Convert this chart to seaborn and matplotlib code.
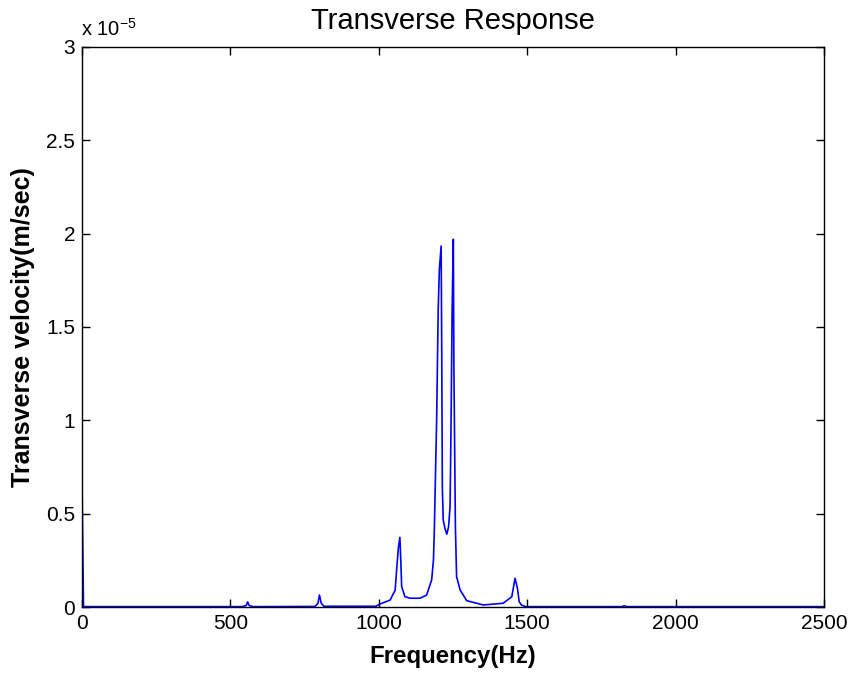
import numpy as np
import pandas as pd
import matplotlib
matplotlib.use("Agg")
import matplotlib.pyplot as plt
import seaborn as sns
from matplotlib.ticker import FuncFormatter

# Frequency response samples (Hz) and transverse velocity amplitude (m/sec)
freq_hz = [0, 5, 540, 553, 558, 563, 576, 785, 795, 800, 806, 815,
           990, 1004, 1038, 1055, 1060, 1066, 1071, 1074, 1077, 1088,
           1105, 1139, 1161, 1178, 1184, 1187, 1195, 1200, 1204, 1210,
           1212, 1214, 1217, 1223, 1229, 1235, 1240, 1243, 1247, 1251,
           1253, 1258, 1262, 1274, 1296, 1352, 1419, 1448, 1459, 1467,
           1473, 1481, 1495, 1820, 1827, 1834, 2500]
velocity = [0.667e-5, 0.002e-5, 0.002e-5, 0.008e-5, 0.027e-5, 0.008e-5, 0.002e-5,
            0.003e-5, 0.020e-5, 0.064e-5, 0.020e-5, 0.004e-5,
            0.004e-5, 0.016e-5, 0.037e-5, 0.090e-5, 0.200e-5, 0.320e-5, 0.373e-5,
            0.250e-5, 0.109e-5, 0.055e-5,
            0.047e-5, 0.047e-5, 0.064e-5, 0.145e-5, 0.250e-5, 0.410e-5, 1.020e-5,
            1.590e-5, 1.810e-5, 1.934e-5,
            1.360e-5, 0.640e-5, 0.466e-5, 0.420e-5, 0.390e-5, 0.430e-5, 0.537e-5,
            0.930e-5, 1.590e-5, 1.970e-5,
            1.270e-5, 0.430e-5, 0.162e-5, 0.091e-5, 0.034e-5, 0.011e-5, 0.020e-5,
            0.055e-5, 0.154e-5, 0.100e-5,
            0.028e-5, 0.010e-5, 0.002e-5, 0.002e-5, 0.007e-5, 0.002e-5, 0.002e-5]

x_ticks = [0, 500, 1000, 1500, 2000, 2500]
y_ticks = [0, 0.5e-5, 1.0e-5, 1.5e-5, 2.0e-5, 2.5e-5, 3.0e-5]

df = pd.DataFrame({"Frequency": freq_hz, "Velocity": velocity})

sns.set_theme(style="ticks")
plt.rcParams["font.family"] = ["Liberation Sans", "DejaVu Sans"]
plt.rcParams["text.color"] = "black"
plt.rcParams["axes.labelcolor"] = "black"

fig = plt.figure(figsize=(8.49, 6.74), dpi=100)
ax = fig.add_axes([0.0966, 0.0994, 0.874, 0.8309])

sns.lineplot(data=df, x="Frequency", y="Velocity", color="#0000ff",
             linewidth=1.2, estimator=None, sort=False, ax=ax)

ax.set_xlim(0, 2500)
ax.set_ylim(0, 3e-5)
ax.set_xticks(x_ticks)
ax.set_yticks(y_ticks)
ax.yaxis.set_major_formatter(FuncFormatter(lambda v, _: f"{v / 1e-5:g}"))
ax.tick_params(axis="both", which="both", direction="in", top=True, right=True,
               length=6, width=1, labelsize=15, colors="black", pad=5)
for side in ax.spines.values():
    side.set_visible(True)
    side.set_color("black")
    side.set_linewidth(1)

ax.set_xlabel("Frequency(Hz)", fontsize=17.3, fontweight="bold", labelpad=9,
              color="black")
ax.set_ylabel("Transverse velocity(m/sec)", fontsize=18, fontweight="bold",
              labelpad=8, color="black")
ax.set_title("Transverse Response", fontsize=21, pad=13, color="black")

# scale multiplier shown above the y axis
ax.text(-0.002, 1.012, r"x 10$^{\mathregular{-5}}$", transform=ax.transAxes,
        fontsize=14.5, ha="left", va="bottom", color="black")

fig.savefig("out.png", dpi=100)
